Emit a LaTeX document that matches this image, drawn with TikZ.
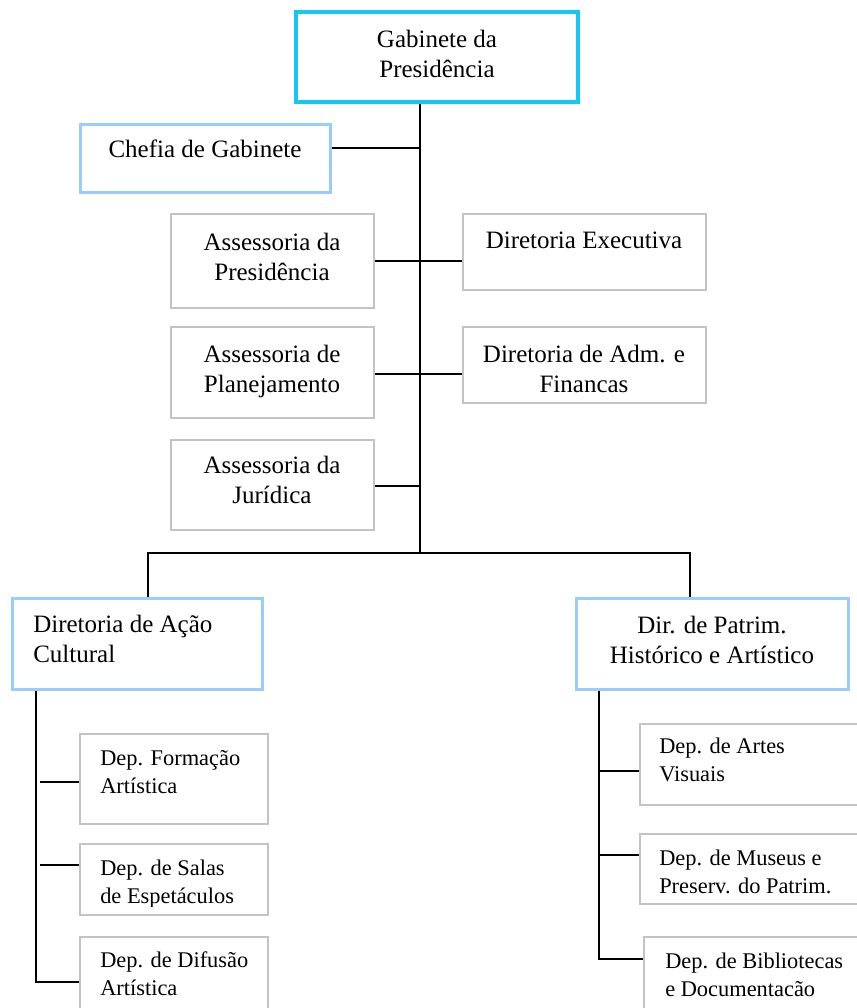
\documentclass[tikz,border=0pt]{standalone}
\usepackage{fontspec}
\setmainfont{Liberation Serif}
\usetikzlibrary{fit}
\definecolor{topcyan}{RGB}{20,200,245}
\definecolor{lblue}{RGB}{153,204,255}
\definecolor{lgray}{RGB}{195,195,195}
\tikzset{
  topbox/.style={draw=topcyan, line width=3pt, inner sep=0pt, fill=white},
  bluebox/.style={draw=lblue, line width=2.25pt, inner sep=0pt, fill=white},
  graybox/.style={draw=lgray, line width=1.2pt, inner sep=0pt, fill=white},
  txt/.style={inner sep=0pt, align=center, anchor=base, font=\fontsize{18.75}{22.5}\selectfont},
  txtl/.style={inner sep=0pt, align=left, anchor=base west, font=\fontsize{18.75}{22.5}\selectfont},
  dtxt/.style={inner sep=0pt, align=left, anchor=base west, font=\fontsize{16.8}{21}\selectfont},
  conn/.style={draw=black, line width=1.4pt}
}
\begin{document}
\begin{tikzpicture}[x=0.75pt,y=-0.75pt]
\useasboundingbox (0,0) rectangle (857,1008);
% boxes
\node[topbox, fit={(296,12) (578,102)}] (gab) {};
\node[bluebox, fit={(80,124) (330,192)}] (chefia) {};
\node[graybox, fit={(171,214) (374,308)}] (apres) {};
\node[graybox, fit={(463,214) (706,290)}] (dexec) {};
\node[graybox, fit={(171,327) (374,418)}] (aplan) {};
\node[graybox, fit={(463,327) (706,403)}] (dadm) {};
\node[graybox, fit={(171,440) (374,530)}] (ajur) {};
\node[bluebox, fit={(12,598) (262,689)}] (dac) {};
\node[bluebox, fit={(576,598) (848,689)}] (dpat) {};
\node[graybox, fit={(80,734) (268,824)}] (form) {};
\node[graybox, fit={(80,844) (268,915)}] (salas) {};
\node[graybox, fit={(80,937) (268,1030)}] (dif) {};
\node[graybox, fit={(640,724) (860,805)}] (artes) {};
\node[graybox, fit={(640,834) (860,904)}] (museus) {};
\node[graybox, fit={(644,937) (860,1030)}] (bib) {};
% texts (anchor = baseline of the last line)
\node[txt] (gabT) at (437,77) {Gabinete da\\Presidência};
\node[txt] (chefiaT) at (205,157) {Chefia de Gabinete};
\node[txt] (apresT) at (272,280) {Assessoria da\\Presidência};
\node[txt] (dexecT) at (584,248) {Diretoria Executiva};
\node[txt] (aplanT) at (272,392) {Assessoria de\\Planejamento};
\node[txt] (dadmT) at (584,392) {Diretoria de Adm. e\\Financas};
\node[txt] (ajurT) at (272,503) {Assessoria da\\Jurídica};
\node[txtl] (dacT) at (33,662) {Diretoria de Ação\\Cultural};
\node[txt] (dpatT) at (712,663) {Dir. de Patrim.\\Histórico e Artístico};
\node[dtxt] (formT) at (100,793) {Dep. Formação\\Artística};
\coordinate (salasClip) at (268,906);
\begin{scope}
\clip (salas.north west) rectangle (salasClip);
\node[dtxt] (salasT) at (100,903) {Dep. de Salas\\de Espetáculos};
\end{scope}
\node[dtxt] (difT) at (100,995) {Dep. de Difusão\\Artística};
\node[dtxt] (artesT) at (659,781) {Dep. de Artes\\Visuais};
\node[dtxt] (museusT) at (659,893) {Dep. de Museus e\\Preserv. do Patrim.};
\node[dtxt] (bibT) at (665,996) {Dep. de Bibliotecas\\e Documentacão};
% junction coordinates
\coordinate (j1) at (420,148);
\coordinate (j2) at (420,261);
\coordinate (j3) at (420,374);
\coordinate (j4) at (420,486);
\coordinate (jb) at (420,553);
\coordinate (bL) at (148,553);
\coordinate (bR) at (690,553);
\coordinate (lT) at (36,982);
\coordinate (l1) at (40,782);
\coordinate (l2) at (40,865);
\coordinate (rT) at (599,959);
\coordinate (r1) at (599,771);
\coordinate (r2) at (599,855);
% connectors
\draw[conn] (gab.south -| jb) -- (jb);
\draw[conn] (j1 -| chefia.east) -- (j1);
\draw[conn] (j2 -| apres.east) -- (j2 -| dexec.west);
\draw[conn] (j3 -| aplan.east) -- (j3 -| dadm.west);
\draw[conn] (j4 -| ajur.east) -- (j4);
\draw[conn] (dac.north -| bL) -- (bL) -- (bR) -- (dpat.north -| bR);
\draw[conn] (dac.south -| lT) -- (lT) -- (lT -| dif.west);
\draw[conn] (l1) -- (l1 -| form.west);
\draw[conn] (l2) -- (l2 -| salas.west);
\draw[conn] (dpat.south -| rT) -- (rT) -- (rT -| bib.west);
\draw[conn] (r1) -- (r1 -| artes.west);
\draw[conn] (r2) -- (r2 -| museus.west);
\end{tikzpicture}
\end{document}
